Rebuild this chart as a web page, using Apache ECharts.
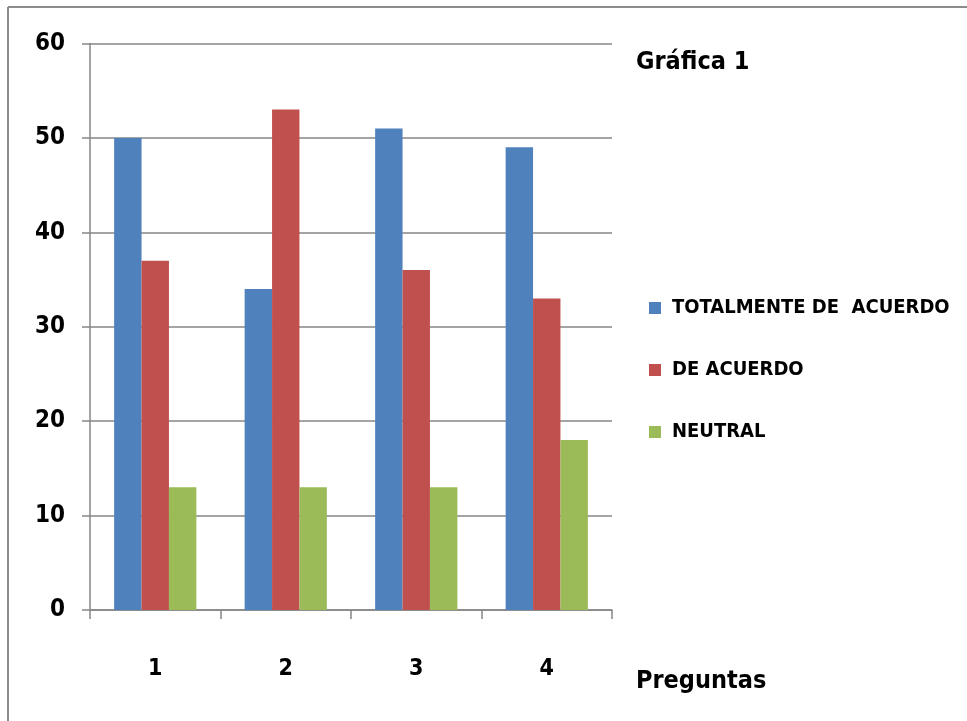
<!DOCTYPE html>
<html>
<head>
<meta charset="utf-8">
<script src="https://cdn.jsdelivr.net/npm/echarts@6/dist/echarts.min.js"></script>
<style>html,body{margin:0;padding:0;background:#fff;}#c{width:967px;height:721px;}</style>
</head>
<body>
<div id="c"></div>
<script>
const categories = ['1', '2', '3', '4'];
const seriesNames = ['TOTALMENTE DE  ACUERDO', 'DE ACUERDO', 'NEUTRAL'];
const totalmente = [50, 34, 51, 49];
const deAcuerdo = [37, 53, 36, 33];
const neutral = [13, 13, 13, 18];
const yTicks = [0, 10, 20, 30, 40, 50, 60];

const FONT = '"Liberation Sans Narrow", "DejaVu Sans Condensed", Arial, sans-serif';
const chart = echarts.init(document.getElementById('c'));
chart.setOption({
  animation: false,
  backgroundColor: '#fff',
  color: ['#4F81BD', '#C0504D', '#9BBB59'],
  title: [
    { text: 'Gráfica 1', left: 636, top: 50, padding: 0, textStyle: { fontFamily: FONT, fontWeight: 'bold', fontSize: 25, color: '#000' } },
    { text: 'Preguntas', left: 636, top: 669, padding: 0, textStyle: { fontFamily: FONT, fontWeight: 'bold', fontSize: 25, color: '#000' } }
  ],
  legend: {
    orient: 'vertical', left: 649, top: 298, itemGap: 42, padding: 0,
    itemWidth: 12, itemHeight: 12, icon: 'rect',
    textStyle: { fontFamily: FONT, fontWeight: 'bold', fontSize: 20, color: '#000', padding: [0, 0, 0, 6] },
    data: seriesNames
  },
  graphic: [
    { type: 'line', shape: { x1: 8, y1: 7, x2: 967, y2: 7 }, style: { stroke: '#8c8c8c', lineWidth: 2 }, silent: true },
    { type: 'line', shape: { x1: 8, y1: 7, x2: 8, y2: 721 }, style: { stroke: '#8c8c8c', lineWidth: 2 }, silent: true }
  ],
  grid: { left: 90, right: 355, top: 43.5, bottom: 111, containLabel: false },
  xAxis: {
    type: 'category', data: categories,
    axisLine: { lineStyle: { color: '#868686', width: 1.5 } },
    axisTick: { show: true, length: 9, lineStyle: { color: '#868686', width: 1.5 } },
    axisLabel: { margin: 48, fontFamily: FONT, fontWeight: 'bold', fontSize: 23, color: '#000' }
  },
  yAxis: {
    type: 'value', min: yTicks[0], max: yTicks[yTicks.length - 1], interval: 10,
    axisLine: { show: true, lineStyle: { color: '#868686', width: 1.5 } },
    axisTick: { show: true, length: 8, lineStyle: { color: '#868686', width: 1.5 } },
    splitLine: { lineStyle: { color: '#868686', width: 1.5 } },
    axisLabel: { margin: 25, fontFamily: FONT, fontWeight: 'bold', fontSize: 24, color: '#000' }
  },
  series: [
    { name: seriesNames[0], type: 'bar', data: totalmente, barGap: '0%', barCategoryGap: '37%' },
    { name: seriesNames[1], type: 'bar', data: deAcuerdo, barGap: '0%', barCategoryGap: '37%' },
    { name: seriesNames[2], type: 'bar', data: neutral, barGap: '0%', barCategoryGap: '37%' }
  ]
});
</script>
</body>
</html>
